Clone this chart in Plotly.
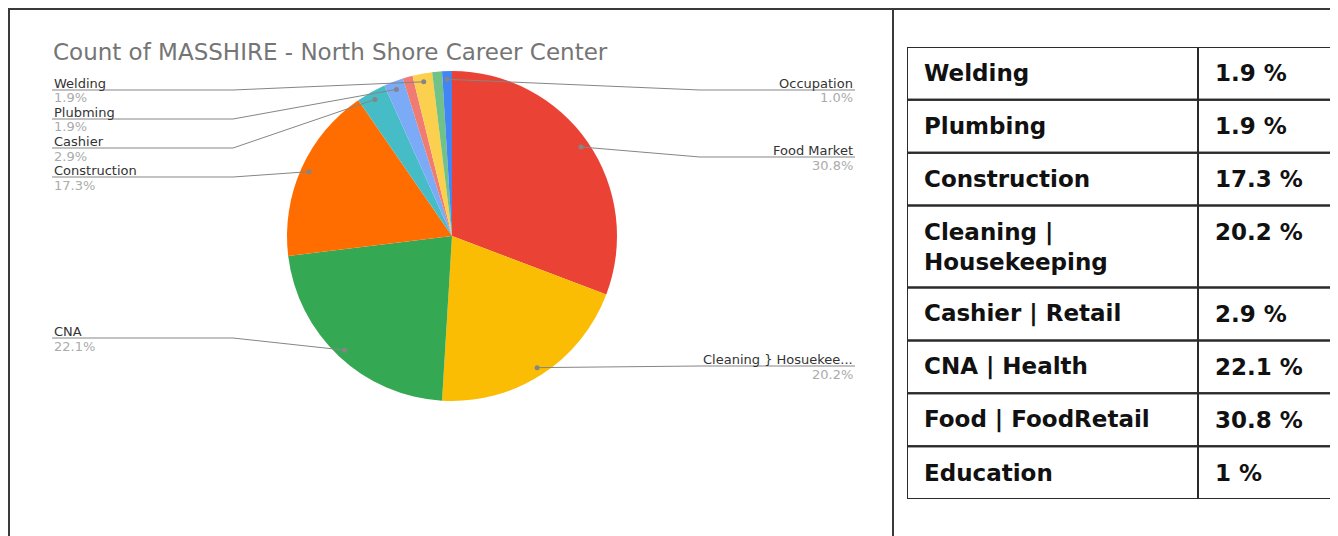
import math
import plotly.graph_objects as go

# page body has an 8px margin, so the figure is 8px smaller and all pixel
# positions below are given in window pixels and shifted by OFF
OFF = 8
W, H = 1338 - OFF, 536 - OFF

# ---------------- data ----------------
title_text = "Count of MASSHIRE - North Shore Career Center"

# pie slices, clockwise from 12 o'clock (counts)
slice_labels = ["Food Market", "Cleaning } Hosuekee...", "CNA", "Construction", "Cashier",
                "Plubming", "Unlabeled A", "Welding", "Unlabeled B", "Occupation"]
slice_counts = [32, 21, 23, 18, 3, 2, 1, 2, 1, 1]
slice_colors = ["#EA4335", "#FBBC04", "#34A853", "#FF6D01", "#46BDC6",
                "#7BAAF7", "#F07B72", "#FCD04F", "#71C287", "#4285F4"]
slice_shown = [True, True, True, True, True, True, False, True, False, True]

# table
table_names = ["Welding", "Plumbing", "Construction", "Cleaning |<br>Housekeeping",
               "Cashier | Retail", "CNA | Health", "Food | FoodRetail", "Education"]
table_values = ["1.9 %", "1.9 %", "17.3 %", "20.2 %", "2.9 %", "22.1 %", "30.8 %", "1 %"]

# ---------------- layout helpers ----------------
def px(x):
    return (x - OFF) / W

def py(y):
    return 1 - (y - OFF) / H

CX, CY, R = 452, 236, 165
LEFT_X, RIGHT_X, BEND_L, BEND_R = 52, 855, 233, 700
# label placement (underline y in pixels, side)
label_pos = {"Food Market": (157, "right"), "Cleaning } Hosuekee...": (366, "right"),
             "CNA": (338, "left"), "Construction": (177, "left"), "Cashier": (148, "left"),
             "Plubming": (119, "left"), "Welding": (90, "left"), "Occupation": (90, "right")}

FONT = "DejaVu Sans, Verdana, sans-serif"
LINE_COL = "#858585"
shapes, annotations = [], []

fig = go.Figure()
fig.add_trace(go.Pie(
    labels=slice_labels, values=slice_counts, sort=False, direction="clockwise", rotation=0,
    marker=dict(colors=slice_colors, line=dict(width=0)), textinfo="none",
    hoverinfo="label+value+percent", showlegend=False,
    domain=dict(x=[px(CX - R), px(CX + R)], y=[py(CY + R), py(CY - R)]),
))

# labels with leader lines
total = sum(slice_counts)
cum = 0
for lab, cnt, shown in zip(slice_labels, slice_counts, slice_shown):
    mid = (cum + cnt / 2) / total * 2 * math.pi
    cum += cnt
    if not shown:
        continue
    dx = CX + 0.95 * R * math.sin(mid)
    dy = CY - 0.95 * R * math.cos(mid)
    ly, side = label_pos[lab]
    pct = f"{cnt / total * 100:.1f}%"
    if side == "right":
        x0, xb = RIGHT_X, max(BEND_R, dx)
    else:
        x0, xb = LEFT_X, min(BEND_L, dx)
    shapes.append(dict(type="line", xref="paper", yref="paper", x0=px(x0), y0=py(ly), x1=px(xb), y1=py(ly),
                       line=dict(color=LINE_COL, width=1)))
    shapes.append(dict(type="line", xref="paper", yref="paper", x0=px(xb), y0=py(ly), x1=px(dx), y1=py(dy),
                       line=dict(color=LINE_COL, width=1)))
    shapes.append(dict(type="circle", xref="paper", yref="paper", x0=px(dx - 2.5), x1=px(dx + 2.5),
                       y0=py(dy + 2.5), y1=py(dy - 2.5), fillcolor=LINE_COL, line=dict(width=0)))
    annotations.append(dict(x=px(x0), y=py(ly - 7), xref="paper", yref="paper", text=lab, showarrow=False,
                            xanchor=side, yanchor="middle", font=dict(family=FONT, size=13, color="#333333")))
    annotations.append(dict(x=px(x0), y=py(ly + 8), xref="paper", yref="paper", text=pct, showarrow=False,
                            xanchor=side, yanchor="middle", font=dict(family=FONT, size=13, color="#ababab")))

# title
annotations.append(dict(x=px(51), y=py(52), xref="paper", yref="paper", text=title_text, showarrow=False,
                        xanchor="left", yanchor="middle", font=dict(family=FONT, size=23, color="#757575")))

# frame
frame_col = "#3a3a3a"
shapes += [
    dict(type="line", xref="paper", yref="paper", x0=px(8), x1=1, y0=py(9), y1=py(9), line=dict(color=frame_col, width=2)),
    dict(type="line", xref="paper", yref="paper", x0=px(9), x1=px(9), y0=py(8), y1=0, line=dict(color=frame_col, width=2)),
    dict(type="line", xref="paper", yref="paper", x0=px(893), x1=px(893), y0=py(8), y1=0, line=dict(color=frame_col, width=2)),
]

# table on its own (hidden) axes: x in column units, y in row units
lines = [t.count("<br>") + 1 for t in table_names]
row_h = [1 + 0.55 * (n - 1) for n in lines]
tops = [sum(row_h[:i]) for i in range(len(row_h))]
tot_h = sum(row_h)
COL_W = 291
tcol = "#2b2b2b"
for i, (nm, val) in enumerate(zip(table_names, table_values)):
    t, h = tops[i], row_h[i]
    shapes.append(dict(type="rect", xref="x2", yref="y2", x0=0, x1=1, y0=t, y1=t + h, line=dict(color=tcol, width=2)))
    shapes.append(dict(type="rect", xref="x2", yref="y2", x0=1, x1=2, y0=t, y1=t + h, line=dict(color=tcol, width=2)))
    annotations.append(dict(x=15 / COL_W, y=t + h / 2, xref="x2", yref="y2", text=nm, showarrow=False,
                            xanchor="left", yanchor="middle", align="left",
                            font=dict(family=FONT, size=23, color="#111111", weight="bold")))
    annotations.append(dict(x=1 + 15 / COL_W, y=t + 0.5, xref="x2", yref="y2", text=val, showarrow=False,
                            xanchor="left", yanchor="middle",
                            font=dict(family=FONT, size=23, color="#111111", weight="bold")))

fig.update_layout(
    width=W, height=H, margin=dict(l=0, r=0, t=0, b=0, pad=0),
    paper_bgcolor="white", plot_bgcolor="rgba(0,0,0,0)", showlegend=False,
    xaxis2=dict(domain=[px(907), 1], range=[0, (1338 - 907) / COL_W], visible=False, anchor="y2", fixedrange=True),
    yaxis2=dict(domain=[py(499), py(47)], range=[tot_h, 0], visible=False, anchor="x2", fixedrange=True),
    shapes=shapes, annotations=annotations,
)

fig.write_html("out.html")
